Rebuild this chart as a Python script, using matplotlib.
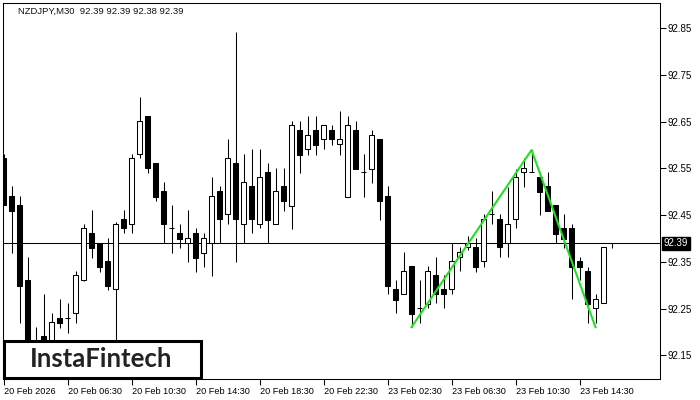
import matplotlib
matplotlib.use("Agg")
import matplotlib.pyplot as plt
import matplotlib.transforms as mtransforms
from matplotlib.patches import Rectangle

# NZDJPY M30 candles
opens = [92.572, 92.491, 92.471, 92.311, 92.170, 92.191, 92.160, 92.230, 92.230, 92.240,
         92.311, 92.412, 92.390, 92.352, 92.292, 92.441, 92.431, 92.580, 92.662, 92.561,
         92.501, 92.422, 92.412, 92.390, 92.412, 92.369, 92.390, 92.501, 92.452, 92.561,
         92.431, 92.512, 92.431, 92.542, 92.431, 92.512, 92.469, 92.632, 92.591, 92.632,
         92.613, 92.632, 92.602, 92.489, 92.632, 92.542, 92.548, 92.613, 92.491, 92.292,
         92.281, 92.341, 92.251, 92.260, 92.322, 92.292, 92.292, 92.360, 92.382, 92.382,
         92.352, 92.452, 92.441, 92.390, 92.441, 92.542, 92.542, 92.531, 92.512, 92.471,
         92.422, 92.422, 92.352, 92.330, 92.251, 92.262, 92.390]
highs = [92.580, 92.512, 92.491, 92.360, 92.210, 92.281, 92.240, 92.270, 92.262, 92.330,
         92.431, 92.461, 92.390, 92.401, 92.435, 92.461, 92.580, 92.702, 92.662, 92.561,
         92.521, 92.471, 92.431, 92.461, 92.422, 92.412, 92.531, 92.512, 92.613, 92.841,
         92.580, 92.591, 92.591, 92.561, 92.551, 92.551, 92.651, 92.651, 92.662, 92.662,
         92.643, 92.643, 92.672, 92.662, 92.651, 92.580, 92.632, 92.613, 92.512, 92.311,
         92.371, 92.341, 92.311, 92.341, 92.360, 92.322, 92.390, 92.382, 92.405, 92.401,
         92.452, 92.501, 92.452, 92.510, 92.548, 92.572, 92.589, 92.542, 92.542, 92.471,
         92.452, 92.431, 92.360, 92.339, 92.281, 92.382, 92.390]
lows = [92.471, 92.369, 92.219, 92.140, 92.140, 92.140, 92.140, 92.208, 92.198, 92.219,
        92.309, 92.358, 92.328, 92.290, 92.161, 92.412, 92.412, 92.572, 92.540, 92.480,
        92.390, 92.369, 92.379, 92.349, 92.328, 92.339, 92.320, 92.390, 92.431, 92.349,
        92.390, 92.412, 92.422, 92.390, 92.431, 92.459, 92.420, 92.540, 92.578, 92.578,
        92.591, 92.600, 92.578, 92.489, 92.548, 92.489, 92.518, 92.439, 92.281, 92.240,
        92.281, 92.210, 92.219, 92.251, 92.262, 92.251, 92.281, 92.330, 92.375, 92.328,
        92.339, 92.431, 92.360, 92.360, 92.422, 92.510, 92.542, 92.450, 92.459, 92.390,
        92.379, 92.270, 92.311, 92.219, 92.219, 92.262, 92.380]
closes = [92.471, 92.459, 92.298, 92.151, 92.160, 92.160, 92.221, 92.219, 92.230, 92.322,
          92.422, 92.379, 92.339, 92.298, 92.431, 92.422, 92.572, 92.651, 92.551, 92.489,
          92.431, 92.422, 92.399, 92.401, 92.358, 92.401, 92.491, 92.441, 92.572, 92.441,
          92.521, 92.441, 92.531, 92.439, 92.501, 92.480, 92.643, 92.578, 92.621, 92.600,
          92.643, 92.613, 92.613, 92.643, 92.548, 92.542, 92.621, 92.480, 92.298, 92.268,
          92.330, 92.238, 92.251, 92.330, 92.281, 92.281, 92.352, 92.371, 92.390, 92.339,
          92.441, 92.452, 92.382, 92.431, 92.531, 92.551, 92.542, 92.499, 92.459, 92.409,
          92.399, 92.339, 92.339, 92.260, 92.270, 92.382, 92.390]

# double top pattern drawn on the chart (bar index, price)
pattern_bars = [51, 66, 74]
pattern_prices = [92.210, 92.589, 92.210]

last_price = 92.39
tick_bars = [0, 8, 16, 24, 32, 40, 48, 56, 64, 72]
tick_labels = ["20 Feb 2026", "20 Feb 06:30", "20 Feb 10:30", "20 Feb 14:30",
               "20 Feb 18:30", "20 Feb 22:30", "23 Feb 02:30", "23 Feb 06:30",
               "23 Feb 10:30", "23 Feb 14:30"]
price_ticks = [92.15, 92.25, 92.35, 92.45, 92.55, 92.65, 92.75, 92.85]

plt.rcParams['font.family'] = ['Liberation Sans', 'DejaVu Sans']

fig = plt.figure(figsize=(7, 4), dpi=100)
ax = fig.add_axes([2.5 / 700, 21 / 400, 657.5 / 700, 376 / 400])

lw = 0.75
body_w = 0.6
for i in range(len(opens)):
    o, h, l, c = opens[i], highs[i], lows[i], closes[i]
    ax.vlines(i, l, h, color='black', linewidth=lw, zorder=2)
    if abs(c - o) < 1e-6:
        ax.hlines(o, i - body_w / 2, i + body_w / 2, color='black', linewidth=lw, zorder=3)
    else:
        face = 'white' if c > o else 'black'
        ax.bar(i, abs(c - o), bottom=min(o, c), width=body_w, color=face,
               edgecolor='black', linewidth=lw, zorder=3)

ax.axhline(last_price, color='black', linewidth=lw, zorder=1)
ax.plot(pattern_bars, pattern_prices, color='#22e022', linewidth=1.5, zorder=4)

ax.set_xlim(-0.125, 82.06)
ax.set_ylim(92.0992, 92.9035)

ax.set_xticks(tick_bars)
ax.set_xticklabels(tick_labels, ha='left', fontsize=6.6)
ax.tick_params(axis='x', direction='out', length=4, width=lw, pad=1.5, colors='black')

ax.yaxis.tick_right()
ax.set_yticks(price_ticks)
ax.set_yticklabels([f"{p:.2f}" for p in price_ticks], fontsize=7)
ax.tick_params(axis='y', direction='out', length=4, width=lw, pad=1.5, colors='black')

for s in ax.spines.values():
    s.set_linewidth(lw)

# current price marker on the right scale
trans = mtransforms.blended_transform_factory(ax.transAxes, ax.transData)
ax.text(1.006, last_price, f"{last_price:.2f}", transform=trans, ha='left', va='center',
        fontsize=7, color='white',
        bbox=dict(facecolor='black', edgecolor='black', boxstyle='square,pad=0.15'))

fig.text(18 / 700, 1 - 11 / 400, "NZDJPY,M30  92.39 92.39 92.38 92.39",
         fontsize=6.8, color='#111111', va='center', ha='left')

# logo box
logo = Rectangle((3.5 / 700, 22.5 / 400), 197 / 700, 36.5 / 400, transform=fig.transFigure,
                 facecolor='white', edgecolor='black', linewidth=2.2, zorder=10)
fig.patches.append(logo)
fig.text(101 / 700, 1 - 359 / 400, "InstaFintech", fontsize=18.5, color='#222222',
         family=['Lato', 'DejaVu Sans'], fontweight='bold', ha='center', va='center', zorder=11)

fig.savefig("out.png", dpi=100)
